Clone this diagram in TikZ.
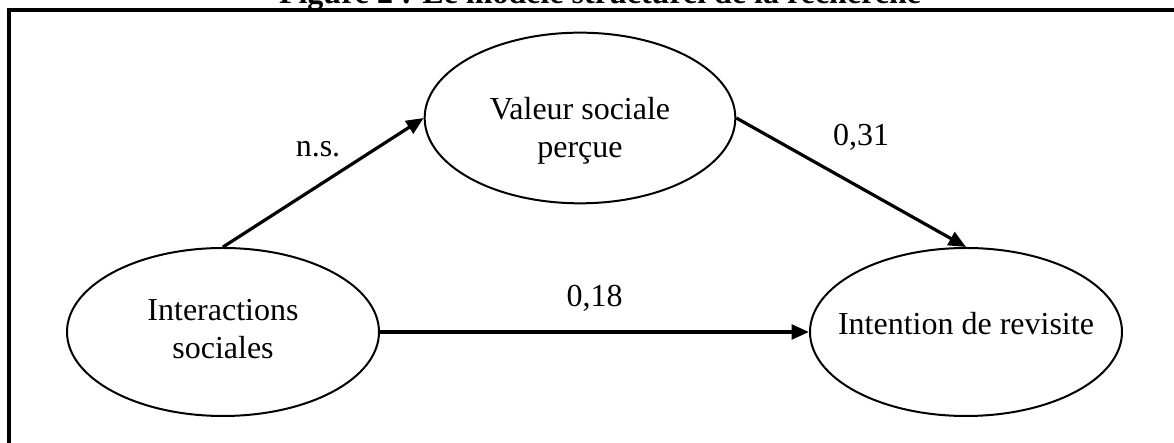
\documentclass[tikz,border=0pt]{standalone}
\usepackage{fontspec}
\setmainfont{Liberation Serif}
\usetikzlibrary{positioning,arrows.meta,shapes}
\newcommand{\etiq}[2][-3pt]{\raisebox{#1}[0pt][0pt]{\makebox[0pt]{\begin{tabular}{@{}c@{}}#2\end{tabular}}}}

\tikzset{
  construit/.style={ellipse, draw, line width=0.75pt, inner sep=0pt,
    minimum width=117pt, minimum height=63pt, font=\fontsize{12}{14}\selectfont},
  lien/.style={-{Triangle[length=6.5pt,width=5.5pt]}, line width=1.2pt},
  coef/.style={font=\fontsize{12}{14}\selectfont}
}

\begin{document}
\begin{tikzpicture}[x=0.375pt, y=-0.375pt]
\useasboundingbox (0,0) rectangle (1174,443);
\clip (0,0) rectangle (1174,443);
% titre et cadre
\node[anchor=base, font=\bfseries\fontsize{12}{14}\selectfont] (titre) at (600,4) {Figure 2 : Le modèle structurel de la recherche};
\draw[line width=1.2pt] (9,470) -- (9,10) -- (1200,10);
% variables latentes
\node[construit] (inter) at (223,332) {\etiq{Interactions\\sociales}};
\node[construit, minimum width=116.5pt, minimum height=64pt] (valeur) at (580,118) {\etiq[-7.9pt]{Valeur sociale\\perçue}};
\node[construit] (intention) at (966,332) {\etiq[-1.1pt]{Intention de revisite}};
% relations
\path
(inter.north) edge[lien] node[coef, xshift=-2pt, yshift=12.4pt] {n.s.} (valeur.west)
(valeur.east) edge[lien] node[coef, xshift=3.7pt, yshift=16.9pt] {0,31} (intention.north)
(inter.east)  edge[lien] node[coef, yshift=12.7pt] {0,18} (intention.west);
\end{tikzpicture}
\end{document}
